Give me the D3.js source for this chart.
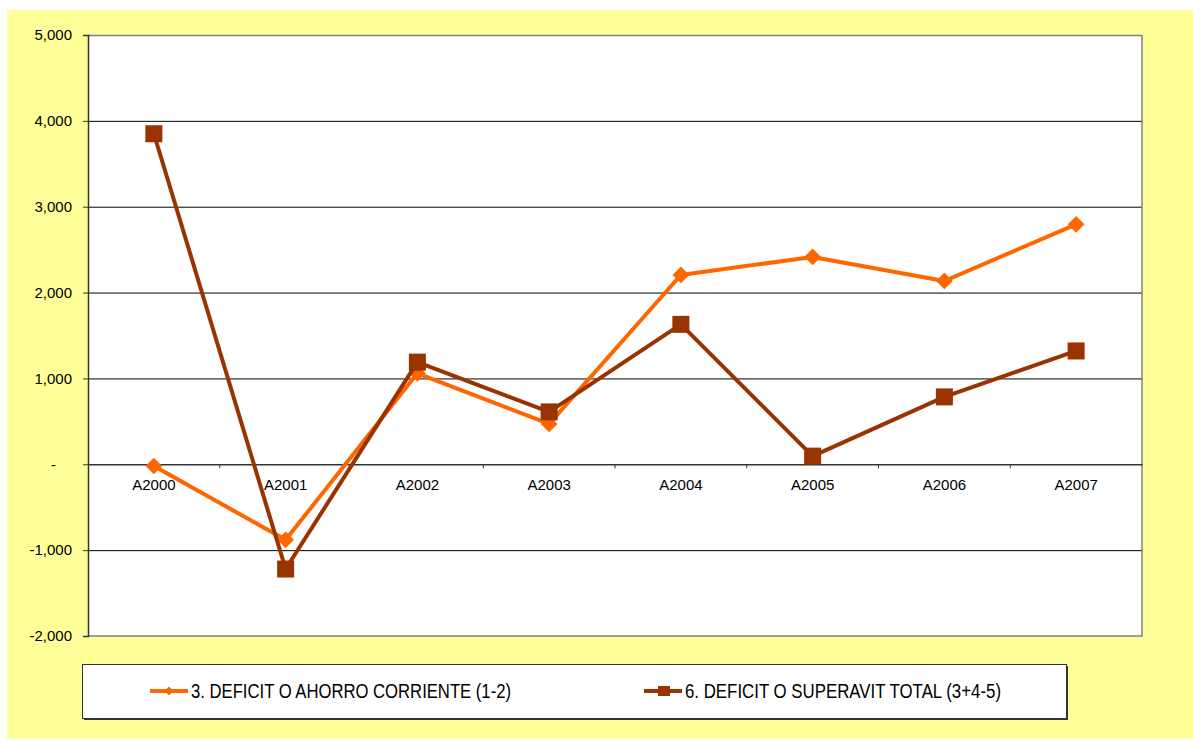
<!DOCTYPE html>
<html><head><meta charset="utf-8">
<script src="https://cdn.jsdelivr.net/npm/d3@7"></script>
<style>html,body{margin:0;padding:0;background:#fff;}svg{display:block;}</style>
</head><body>
<script>
const categories = ["A2000","A2001","A2002","A2003","A2004","A2005","A2006","A2007"];
const seriesNames = ["3. DEFICIT O AHORRO CORRIENTE (1-2)", "6. DEFICIT O SUPERAVIT TOTAL (3+4-5)"];
const ahorro = [-20, -880, 1060, 470, 2205, 2415, 2135, 2795];
const superavit = [3850, -1220, 1190, 610, 1630, 95, 785, 1320];
const yTicks = [-2000, -1000, 0, 1000, 2000, 3000, 4000, 5000];
const colors = ["#FF6600", "#993300"];

const W = 1193, H = 742;
const FONT = "Liberation Sans, Arial, sans-serif";
const svg = d3.select("body").append("svg").attr("width", W).attr("height", H);
svg.append("rect").attr("x", 7).attr("y", 10).attr("width", W - 7).attr("height", 729).attr("fill", "#FFFF99");

const L = 88, T = 35, R = 1142, B = 636;
svg.append("rect").attr("x", L).attr("y", T).attr("width", R - L).attr("height", B - T).attr("fill", "#fff");

const x = d3.scaleBand().domain(categories).range([L, R]);
const y = d3.scaleLinear().domain([-2000, 5000]).range([B, T]);

// gridlines
svg.append("g").selectAll("line").data(yTicks.filter(t => t !== 0 && t !== -2000 && t !== 5000)).join("line")
  .attr("x1", L).attr("x2", R).attr("y1", d => y(d) + 0.5).attr("y2", d => y(d) + 0.5)
  .attr("stroke", "#000").attr("stroke-width", 1);
// plot border (top, right, bottom)
svg.append("path").attr("d", `M${L},${T+0.5}H${R}V${B}H${L}`).attr("fill", "none").attr("stroke", "#808080").attr("stroke-width", 1.5);

// y axis
const fmt = d => d === 0 ? "-" : d3.format(",")(d).replace("\u2212", "-");
const yAxis = d3.axisLeft(y).tickValues(yTicks).tickFormat(fmt).tickSize(5).tickPadding(11);
const gy = svg.append("g").attr("transform", `translate(${L},0)`).call(yAxis);
gy.select(".domain").attr("stroke", "#333").attr("stroke-width", 1.5);
gy.selectAll(".tick line").attr("stroke", "#333");
gy.selectAll("text").attr("font-family", FONT).attr("font-size", 15).attr("fill", "#000");
gy.selectAll(".tick").filter(d => d === 0).select("text").attr("dx", -16);

// x axis at zero
const xAxis = d3.axisBottom(x).tickSize(0).tickPadding(15);
const gx = svg.append("g").attr("transform", `translate(0,${y(0)})`).call(xAxis);
gx.select(".domain").attr("stroke", "#333").attr("stroke-width", 1.5);
gx.selectAll("text").attr("font-family", FONT).attr("font-size", 15).attr("fill", "#000");
// category boundary ticks
svg.append("g").selectAll("line").data(categories.slice(1)).join("line")
  .attr("x1", d => x(d)).attr("x2", d => x(d)).attr("y1", y(0)).attr("y2", y(0) + 4)
  .attr("stroke", "#333").attr("stroke-width", 1);

const cx = d => x(d) + x.bandwidth() / 2;
const line = d3.line().x((d, i) => cx(categories[i])).y(d => y(d));

// series 1
svg.append("path").datum(ahorro).attr("d", line).attr("fill", "none").attr("stroke", colors[0]).attr("stroke-width", 4).attr("stroke-linejoin", "round");
const diamond = d3.symbol().type(d3.symbolSquare).size(140);
svg.append("g").selectAll("path").data(ahorro).join("path")
  .attr("d", diamond).attr("transform", (d, i) => `translate(${cx(categories[i])},${y(d)}) rotate(45)`)
  .attr("fill", colors[0]);

// series 2
svg.append("path").datum(superavit).attr("d", line).attr("fill", "none").attr("stroke", colors[1]).attr("stroke-width", 4).attr("stroke-linejoin", "round");
svg.append("g").selectAll("rect").data(superavit).join("rect")
  .attr("x", (d, i) => cx(categories[i]) - 8.5).attr("y", d => y(d) - 8.5).attr("width", 17).attr("height", 17)
  .attr("fill", colors[1]);

// legend
const lg = svg.append("g");
lg.append("rect").attr("x", 84).attr("y", 666).attr("width", 984).attr("height", 54).attr("fill", "#333");
lg.append("rect").attr("x", 82.5).attr("y", 664.5).attr("width", 984).attr("height", 54).attr("fill", "#fff").attr("stroke", "#333").attr("stroke-width", 1);
const items = [{x: 150, name: seriesNames[0], c: colors[0], m: "d", w: 320}, {x: 644, name: seriesNames[1], c: colors[1], m: "s", w: 316}];
items.forEach(it => {
  const ly = 691;
  lg.append("line").attr("x1", it.x).attr("x2", it.x + 38).attr("y1", ly).attr("y2", ly).attr("stroke", it.c).attr("stroke-width", 4);
  if (it.m === "d") {
    lg.append("path").attr("d", d3.symbol().type(d3.symbolSquare).size(40)).attr("transform", `translate(${it.x + 19},${ly}) rotate(45)`).attr("fill", it.c);
  } else {
    lg.append("rect").attr("x", it.x + 14).attr("y", ly - 5).attr("width", 12).attr("height", 10).attr("fill", it.c);
  }
  lg.append("text").attr("x", it.x + 41).attr("y", ly + 7).text(it.name)
    .attr("textLength", it.w).attr("lengthAdjust", "spacingAndGlyphs")
    .attr("font-family", FONT).attr("font-size", 20).attr("fill", "#000");
});
</script>
</body></html>
